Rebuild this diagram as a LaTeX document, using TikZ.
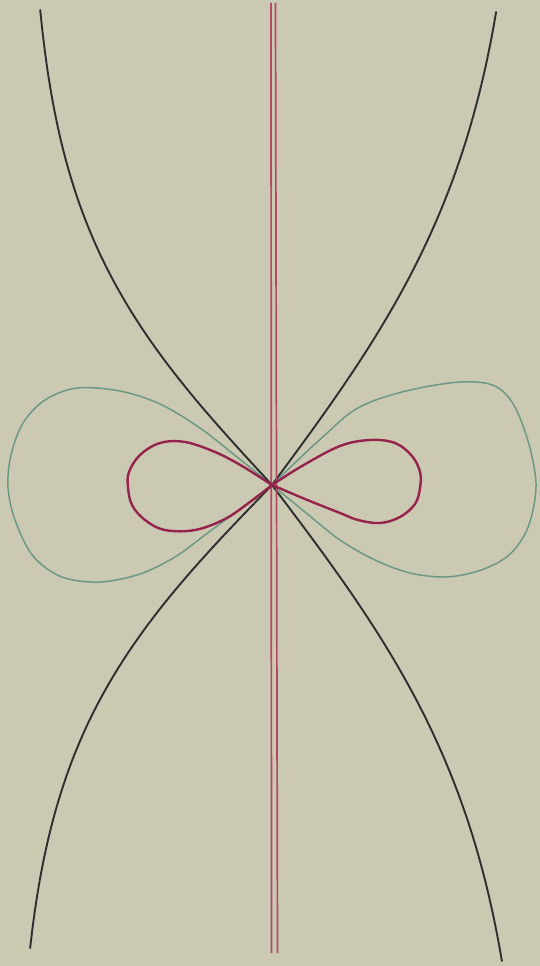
\documentclass[tikz,border=0pt]{standalone}
\definecolor{paper}{RGB}{204,201,178}
\definecolor{inkblack}{RGB}{45,47,48}
\definecolor{inkgreen}{RGB}{108,152,134}
\definecolor{inkred}{RGB}{150,35,75}
\definecolor{inkpink}{RGB}{180,72,104}
\tikzset{
  blackcurve/.style={draw=inkblack, line width=1.9pt, line cap=round, line join=round},
  greencurve/.style={draw=inkgreen, line width=1.5pt, line cap=round, line join=round},
  redloop/.style={draw=inkred, line width=2.4pt, line cap=round, line join=round},
  redrule/.style={draw=inkpink, line width=1.7pt},
}
\begin{document}
\begin{tikzpicture}[x=1pt,y=-1pt]
\fill[paper] (0,0) rectangle (540,966);
\useasboundingbox (0,0) rectangle (540,966);

% green lobes
\draw[greencurve] plot[smooth, tension=0.55] coordinates {(272,485) (237,457) (200,428) (160,404) (120,391) (77,388) (45,400) (23,423) (11,455) (8,487) (15,520) (33,556) (62,577) (100,582) (140,574) (175,557) (205,535) (240,509) (272,485)};
\draw[greencurve] plot[smooth, tension=0.55] coordinates {(272,485) (300,458) (326,434) (350,413) (373,401) (402,392) (430,386) (460,382) (485,383) (500,389) (512,402) (522,423) (531,452) (536,483) (533,510) (526,532) (514,550) (499,562) (475,572) (445,577) (410,573) (375,560) (340,540) (305,512) (272,485)};

% black branches
\draw[blackcurve] plot[domain=0:475, samples=80, variable=\t] ({272-245*tanh(\t/265)}, {485-\t});
\draw[blackcurve] plot[domain=0:473, samples=80, variable=\t] ({272+255*tanh(\t/345)}, {485-\t});
\draw[blackcurve] plot[domain=0:463, samples=80, variable=\t] ({272-257*tanh(\t/265)}, {485+\t});
\draw[blackcurve] plot[domain=0:476, samples=80, variable=\t] ({272+261*tanh(\t/345)}, {485+\t});

% red vertical rules
\coordinate (ra) at (271,3);
\coordinate (rb) at (271.5,953);
\coordinate (rc) at (275.5,3);
\coordinate (rd) at (277.5,953);
\draw[redrule] (ra) -- (rb);
\draw[redrule] (rc) -- (rd);

% red lemniscate
\draw[redloop] plot[smooth, tension=0.6] coordinates {(272,485) (242,466) (215,452) (185,442) (160,443) (140,455) (129,472) (128,487) (132,505) (145,520) (165,530) (195,530) (225,519) (250,502) (272,485)};
\draw[redloop] plot[smooth, tension=0.6] coordinates {(272,485) (302,466) (340,446) (370,440) (395,443) (412,456) (420,472) (420,488) (415,504) (400,517) (380,523) (358,520) (340,513) (305,499) (272,485)};
\end{tikzpicture}
\end{document}
